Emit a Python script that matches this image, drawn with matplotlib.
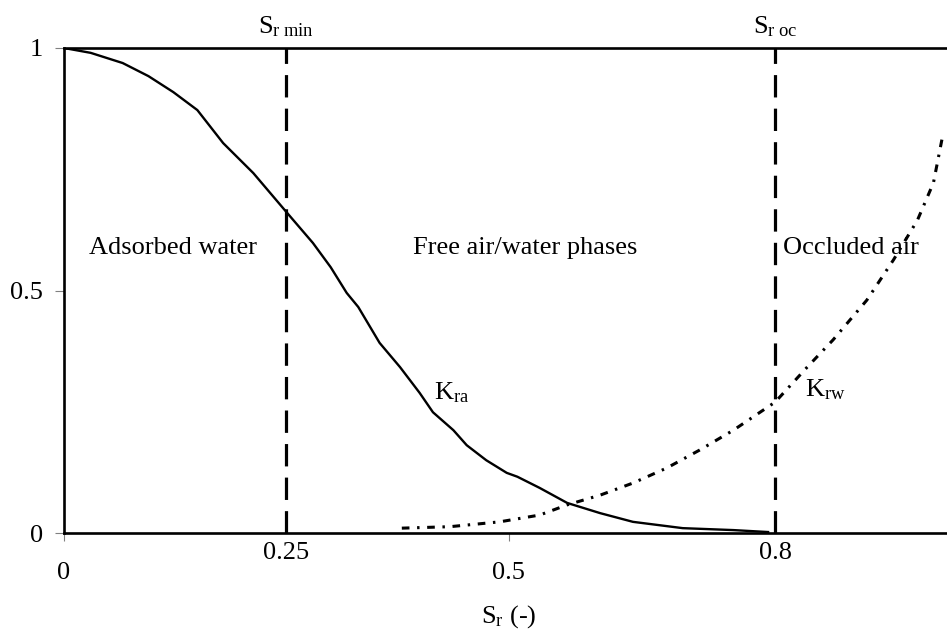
# relative permeability curves (air / water) vs degree of saturation
import numpy as np
import matplotlib.pyplot as plt
from matplotlib import rcParams

rcParams['font.family'] = 'Liberation Serif'
rcParams['mathtext.fontset'] = 'custom'
rcParams['mathtext.rm'] = 'Liberation Serif'
rcParams['mathtext.it'] = 'Liberation Serif:italic'

# K_ra curve
sr_ra = [0.0, 0.030, 0.066, 0.095, 0.123, 0.150, 0.179, 0.213, 0.251, 0.280,
         0.300, 0.318, 0.331, 0.355, 0.378, 0.400, 0.415, 0.438, 0.453, 0.475,
         0.498, 0.510, 0.535, 0.566, 0.603, 0.640, 0.696, 0.753, 0.792]
k_ra = [1.0, 0.990, 0.969, 0.942, 0.909, 0.872, 0.804, 0.742, 0.660, 0.598,
        0.548, 0.495, 0.466, 0.392, 0.342, 0.289, 0.249, 0.212, 0.181, 0.150,
        0.124, 0.116, 0.093, 0.062, 0.041, 0.023, 0.010, 0.006, 0.002]

# K_rw curve
sr_rw = [0.380, 0.434, 0.490, 0.535, 0.566, 0.603, 0.640, 0.678, 0.715, 0.753,
         0.800, 0.836, 0.865, 0.903, 0.933, 0.960, 0.978, 0.989]
k_rw = [0.010, 0.013, 0.023, 0.037, 0.058, 0.078, 0.103, 0.134, 0.171, 0.212,
        0.270, 0.342, 0.398, 0.480, 0.563, 0.645, 0.722, 0.825]

sr_limits = [0.25, 0.8]
limit_labels = [r'$\mathrm{S_{r\ min}}$', r'$\mathrm{S_{r\ oc}}$']
xtick_vals = [0, 0.25, 0.5, 0.8]
xtick_text = ['0', '0.25', '0.5', '0.8']
ytick_vals = [0, 0.5, 1]
ytick_text = ['0', '0.5', '1']
regions = ['Adsorbed water', 'Free air/water phases', 'Occluded air']
region_x = [0.028, 0.393, 0.809]

fs = 19
fig = plt.figure(figsize=(9.47, 6.31), dpi=100)
ax = fig.add_axes([64/947, 98/631, 883/947, 485/631])
ax.set_xlim(0, 883/889)
ax.set_ylim(0, 1)

ax.plot(sr_ra, k_ra, color='black', lw=1.7, solid_joinstyle='round')
ax.plot(sr_rw, k_rw, color='black', lw=2.2, linestyle=(0, (2.5, 2.5, 0.8, 2.5)))

for xv in sr_limits:
    ax.axvline(xv, color='black', lw=2.3, linestyle=(0, (7, 3.5)))

for xv, lab in zip(sr_limits, limit_labels):
    ax.text(xv, 1.043, lab, ha='center', va='center', fontsize=fs, clip_on=False)

for sp in ['left', 'bottom', 'top']:
    ax.spines[sp].set_linewidth(1.9)
ax.spines['right'].set_visible(False)

# y ticks
ax.set_yticks(ytick_vals)
ax.set_yticklabels(ytick_text, fontsize=fs)
ax.tick_params(axis='y', length=6.5, width=0.8, color='gray', pad=8.5)

# x ticks: only 0 and 0.5 have marks, labels are staggered
ax.set_xticks([0, 0.5])
ax.set_xticklabels([])
ax.tick_params(axis='x', length=6, width=0.8, color='gray')
for xv, lab in zip(xtick_vals, xtick_text):
    yy = -0.042 if lab in ('0.25', '0.8') else -0.082
    ax.text(xv, yy, lab, ha='center', va='center', fontsize=fs, clip_on=False)

ax.text(0.5, -0.172, r'$\mathrm{S_r}$ (-)', ha='center', va='center', fontsize=fs, clip_on=False)

for xv, lab in zip(region_x, regions):
    ax.text(xv, 0.588, lab, ha='left', va='center', fontsize=fs)

ax.text(0.416, 0.29, r'$\mathrm{K_{ra}}$', ha='left', va='center', fontsize=fs)
ax.text(0.834, 0.295, r'$\mathrm{K_{rw}}$', ha='left', va='center', fontsize=fs)

plt.savefig('out.png', dpi=100)
